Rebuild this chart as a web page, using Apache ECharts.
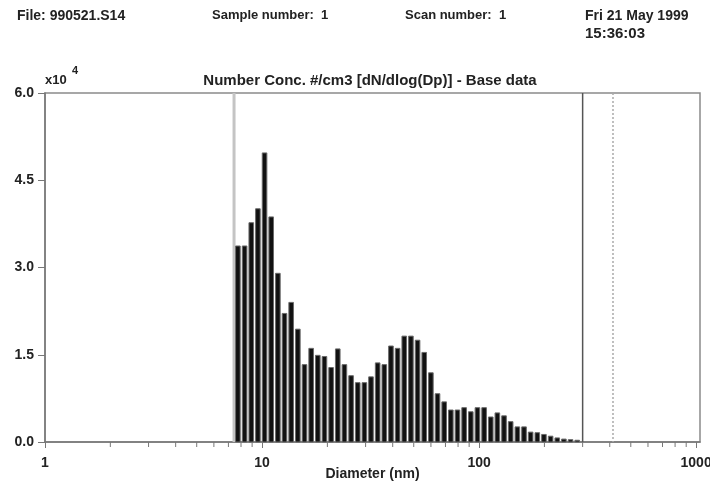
<!DOCTYPE html>
<html>
<head>
<meta charset="utf-8">
<script src="https://cdn.jsdelivr.net/npm/echarts@6/dist/echarts.min.js"></script>
<style>
  html, body { margin: 0; padding: 0; background: #fff; }
  #chart { width: 710px; height: 485px; }
</style>
</head>
<body>
<div id="chart"></div>
<script>
// channel mid diameters (nm)
const diameters = [
  7.74, 8.31, 8.92, 9.57, 10.27, 11.02, 11.83, 12.69, 13.62, 14.62,
  15.69, 16.84, 18.07, 19.39, 20.81, 22.33, 23.96, 25.72, 27.60, 29.62,
  31.77, 34.10, 36.59, 39.26, 42.13, 45.21, 48.52, 52.07, 55.88, 59.97,
  64.35, 69.06, 74.10, 79.52, 85.34, 91.58, 98.27, 105.5, 113.2, 121.4,
  130.3, 139.8, 150.1, 161.1, 172.8, 185.5, 199.0, 213.6, 229.2, 245.9,
  263.9, 283.3
];
// dN/dlog(Dp), units of 10^4 #/cm3
const concentration = [
  3.37, 3.37, 3.77, 4.01, 4.97, 3.87, 2.90, 2.21, 2.40, 1.94,
  1.33, 1.61, 1.49, 1.47, 1.28, 1.60, 1.33, 1.14, 1.02, 1.02,
  1.12, 1.36, 1.33, 1.65, 1.61, 1.82, 1.82, 1.75, 1.54, 1.19,
  0.83, 0.69, 0.55, 0.55, 0.59, 0.52, 0.59, 0.59, 0.43, 0.50,
  0.45, 0.35, 0.26, 0.26, 0.17, 0.16, 0.13, 0.10, 0.07, 0.05,
  0.04, 0.03
];
// cursor lines (nm)
const lowerLimit = 7.43;
const upperLimit = 300;
const dashedLimit = 414;
// axis ticks
const yTicks = [0, 1.5, 3.0, 4.5, 6.0];
const xMajor = [1, 10, 100, 1000];
const xMinor = [2, 3, 4, 5, 6, 7, 8, 9, 20, 30, 40, 50, 60, 70, 80, 90, 200, 300, 400, 500, 600, 700, 800, 900];
const xMax = 1042; // frame runs a little past the 1000 tick

const FONT = '"Liberation Sans", Arial, sans-serif';
const txt = { fontFamily: FONT, fontWeight: 'bold', fontSize: 13, fill: '#222' };

let myChart = echarts.init(document.getElementById('chart'));
let option = {
  animation: false,
  grid: {
    show: true,
    left: 45, right: 10, top: 93, bottom: 43,
    outerBoundsMode: 'none',
    containLabel: false,
    borderColor: '#8a8a8a', borderWidth: 1.5,
    backgroundColor: '#fff'
  },
  xAxis: {
    type: 'log',
    logBase: 10,
    min: xMajor[0],
    max: xMax,
    name: 'Diameter (nm)',
    nameLocation: 'middle',
    nameGap: 25,
    nameMoveOverlap: false,
    nameTextStyle: { fontFamily: FONT, fontWeight: 'bold', fontSize: 14, color: '#222' },
    axisLine: { lineStyle: { color: '#777', width: 1.5 } },
    axisTick: { show: true, length: 6, lineStyle: { color: '#777' } },
    axisLabel: {
      fontFamily: FONT, fontWeight: 'bold', fontSize: 14, color: '#222', margin: 14,
      showMaxLabel: false,
      formatter: v => xMajor.indexOf(Math.round(v)) >= 0 ? String(Math.round(v)) : ''
    },
    splitLine: { show: false }
  },
  yAxis: {
    type: 'value',
    min: yTicks[0],
    max: yTicks[yTicks.length - 1],
    interval: 1.5,
    axisLine: { show: true, lineStyle: { color: '#777', width: 1.5 } },
    axisTick: { show: true, length: 7, lineStyle: { color: '#777' } },
    axisLabel: {
      fontFamily: FONT, fontWeight: 'bold', fontSize: 14, color: '#222', margin: 11,
      formatter: v => v.toFixed(1)
    },
    splitLine: { show: false }
  },
  graphic: [
    { type: 'text', left: 17, top: 9, style: Object.assign({}, txt, { text: 'File: 990521.S14', fontSize: 14 }) },
    { type: 'text', left: 212, top: 9, style: Object.assign({}, txt, { text: 'Sample number:  1' }) },
    { type: 'text', left: 405, top: 9, style: Object.assign({}, txt, { text: 'Scan number:  1' }) },
    { type: 'text', left: 585, top: 9, style: Object.assign({}, txt, { text: 'Fri 21 May 1999', fontSize: 14 }) },
    { type: 'text', left: 585, top: 26, style: Object.assign({}, txt, { text: '15:36:03', fontSize: 15 }) },
    { type: 'text', left: 45, top: 74, style: Object.assign({}, txt, { text: 'x10' }) },
    { type: 'text', left: 72, top: 65, style: Object.assign({}, txt, { text: '4', fontSize: 11 }) },
    { type: 'text', x: 370, y: 73, style: Object.assign({}, txt, { text: 'Number Conc. #/cm3 [dN/dlog(Dp)] - Base data', fontSize: 15, align: 'center' }) }
  ],
  series: [
    {
      // cursor lines
      type: 'custom',
      z: 1,
      data: [[lowerLimit, 0], [upperLimit, 1], [dashedLimit, 2]],
      renderItem: (params, api) => {
        const kind = api.value(1);
        const top = api.coord([api.value(0), yTicks[yTicks.length - 1]]);
        const bot = api.coord([api.value(0), 0]);
        const styles = [
          { stroke: '#c4c4c4', lineWidth: 3 },
          { stroke: '#555', lineWidth: 1.5 },
          { stroke: '#aaa', lineWidth: 1.5, lineDash: [2, 2] }
        ];
        return {
          type: 'line',
          shape: { x1: top[0], y1: top[1], x2: bot[0], y2: bot[1] },
          style: styles[kind]
        };
      }
    },
    {
      // size distribution bars
      type: 'custom',
      z: 2,
      data: diameters.map((d, i) => [d, concentration[i]]),
      renderItem: (params, api) => {
        const p = api.coord([api.value(0), api.value(1)]);
        const b = api.coord([api.value(0), 0]);
        const w = 4.6;
        return {
          type: 'rect',
          shape: { x: p[0] - w / 2, y: p[1], width: w, height: b[1] - p[1] },
          style: { fill: '#111', stroke: '#6a6a6a', lineWidth: 1 }
        };
      }
    },
    {
      // minor ticks of the log axis
      type: 'custom',
      z: 3,
      clip: false,
      data: xMinor.map(v => [v, 0]),
      renderItem: (params, api) => {
        const p = api.coord([api.value(0), 0]);
        return {
          type: 'line',
          shape: { x1: p[0], y1: p[1], x2: p[0], y2: p[1] + 5 },
          style: { stroke: '#777', lineWidth: 1 }
        };
      }
    }
  ]
};
myChart.setOption(option);
</script>
</body>
</html>
